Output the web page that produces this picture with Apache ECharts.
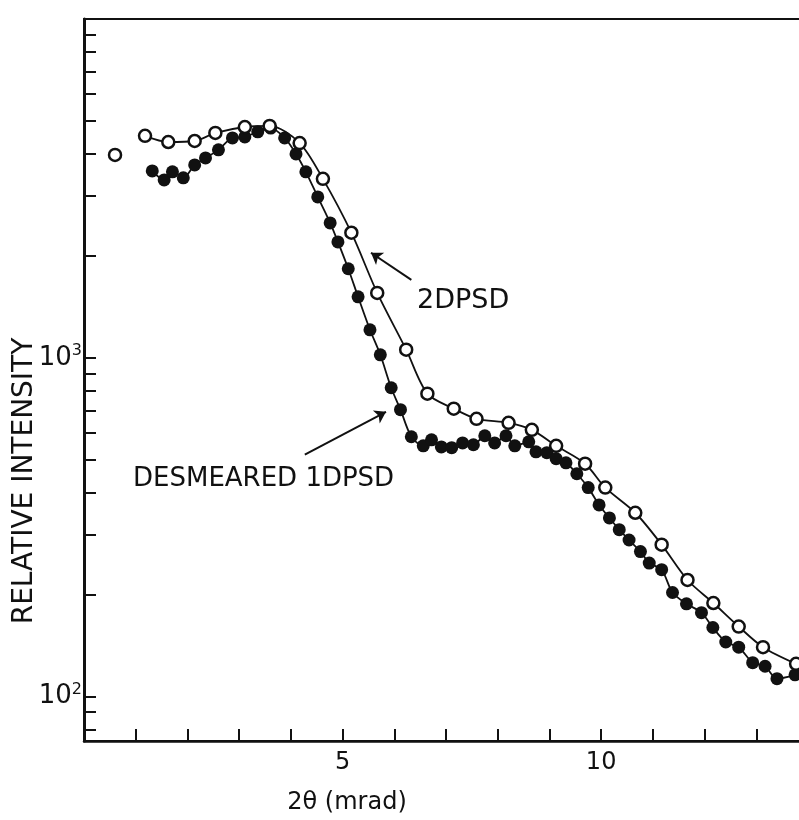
<!DOCTYPE html>
<html>
<head>
<meta charset="utf-8">
<script src="https://cdn.jsdelivr.net/npm/echarts@6/dist/echarts.min.js"></script>
<style>
  html, body { margin: 0; padding: 0; background: #fff; }
  #chart { width: 799px; height: 820px; }
</style>
</head>
<body>
<div id="chart"></div>
<script>
// Scattering angle 2θ (mrad)
const twoDX = [0.60, 1.18, 1.63, 2.14, 2.54, 3.11, 3.59, 4.17, 4.62, 5.17, 5.67, 6.23, 6.64, 7.15, 7.59, 8.21, 8.66, 9.13, 9.69, 10.08, 10.66, 11.17, 11.67, 12.17, 12.66, 13.13, 13.77];
// Relative intensity, 2DPSD (open circles)
const twoDY = [3970, 4520, 4335, 4365, 4610, 4800, 4835, 4305, 3375, 2340, 1555, 1057, 784, 708, 661, 643, 613, 550, 487, 414, 349, 281, 221, 189, 161, 140, 125];

// Scattering angle 2θ (mrad), desmeared 1DPSD
const oneDX = [1.32, 1.55, 1.71, 1.92, 2.14, 2.35, 2.60, 2.87, 3.11, 3.36, 3.61, 3.88, 4.10, 4.29, 4.52, 4.76, 4.91, 5.11, 5.30, 5.53, 5.73, 5.94, 6.12, 6.33, 6.56, 6.72, 6.91, 7.11, 7.32, 7.53, 7.75, 7.94, 8.16, 8.33, 8.60, 8.74, 8.95, 9.13, 9.32, 9.53, 9.75, 9.96, 10.16, 10.35, 10.54, 10.76, 10.93, 11.17, 11.38, 11.65, 11.94, 12.16, 12.41, 12.66, 12.93, 13.17, 13.40, 13.75];
// Relative intensity, desmeared 1DPSD (filled circles)
const oneDY = [3562, 3350, 3540, 3398, 3710, 3890, 4110, 4457, 4487, 4645, 4765, 4457, 3997, 3540, 2985, 2502, 2198, 1832, 1514, 1210, 1021, 816, 703, 585, 550, 573, 546, 543, 561, 554, 589, 561, 589, 550, 565, 528, 525, 504, 490, 455, 414, 368, 337, 311, 290, 268, 248, 237, 203, 188, 177, 160, 145, 140, 126, 123, 113, 116];

// Axis ticks and labels
const xTickLabels = [5, 10];
const yTickValues = [80, 90, 100, 200, 300, 400, 500, 600, 700, 800, 900, 1000, 2000, 3000, 4000, 5000, 6000, 7000, 8000, 9000];
const yTickLabels = [100, 1000];

// Annotation arrows [x0, y0, x1, y1] in data units
const arrow2D = [6.33, 1698, 5.55, 2042];
const arrow1D = [4.27, 518, 5.84, 693];

const INK = '#111';
const FONT = 'DejaVu Sans';

const pairs = (xs, ys) => xs.map((x, i) => [x, ys[i]]);
const twoD = pairs(twoDX, twoDY);
const oneD = pairs(oneDX, oneDY);

const arrowLine = (a) => ({
  silent: true,
  symbol: ['none', 'arrow'],
  symbolSize: 11,
  lineStyle: { color: INK, width: 2, type: 'solid' },
  itemStyle: { color: INK },
  label: { show: false },
  emphasis: { disabled: true },
  data: [[{ coord: [a[0], a[1]] }, { coord: [a[2], a[3]] }]]
});

const chart = echarts.init(document.getElementById('chart'), null, { renderer: 'canvas' });
chart.setOption({
  animation: false,
  backgroundColor: '#fff',
  grid: {
    left: 84, top: 19, width: 724, height: 722,
    containLabel: false, outerBoundsMode: 'none',
    show: true, borderColor: INK, borderWidth: 2, backgroundColor: 'transparent'
  },
  xAxis: {
    type: 'value', min: 0, max: 14, interval: 1,
    splitLine: { show: false },
    axisLine: { lineStyle: { color: INK, width: 2.5 } },
    axisTick: { inside: true, length: 12, lineStyle: { color: INK, width: 2 } },
    axisLabel: {
      margin: 10, color: INK, fontFamily: FONT, fontSize: 24,
      formatter: (v) => xTickLabels.includes(v) ? String(v) : ''
    }
  },
  yAxis: {
    type: 'log', logBase: 10, min: 74, max: 10000,
    splitLine: { show: false },
    axisLine: { lineStyle: { color: INK, width: 3 } },
    axisTick: { inside: true, length: 12, customValues: yTickValues, lineStyle: { color: INK, width: 2 } },
    axisLabel: {
      customValues: yTickLabels,
      margin: 2, color: INK,
      formatter: (v) => v === 1000 ? '{b|10}{s|3}' : (v === 100 ? '{b|10}{s|2}' : ''),
      rich: {
        b: { fontFamily: FONT, fontSize: 26, lineHeight: 30, color: INK },
        s: { fontFamily: FONT, fontSize: 16, lineHeight: 16, verticalAlign: 'top', color: INK }
      }
    }
  },
  series: [
    {
      name: 'DESMEARED 1DPSD',
      type: 'line',
      data: oneD,
      smooth: 0.3,
      symbol: 'circle', symbolSize: 13,
      itemStyle: { color: INK, borderColor: INK, borderWidth: 0, opacity: 1 },
      lineStyle: { color: INK, width: 1.8 },
      markLine: arrowLine(arrow1D),
      z: 3
    },
    {
      name: '2DPSD',
      type: 'line',
      data: twoD.slice(1),
      smooth: 0.3,
      symbol: 'circle', symbolSize: 12,
      itemStyle: { color: '#fff', borderColor: INK, borderWidth: 2.5, opacity: 1 },
      lineStyle: { color: INK, width: 1.8 },
      markLine: arrowLine(arrow2D),
      z: 4
    },
    {
      name: '2DPSD',
      type: 'scatter',
      data: twoD.slice(0, 1),
      symbol: 'circle', symbolSize: 12,
      itemStyle: { color: '#fff', borderColor: INK, borderWidth: 2.5, opacity: 1 },
      z: 4
    }
  ],
  graphic: [
    {
      type: 'text', left: 417, top: 287,
      style: { text: '2DPSD', fill: INK, font: '27px "' + FONT + '"' }
    },
    {
      type: 'text', left: 133, top: 466,
      style: { text: 'DESMEARED 1DPSD', fill: INK, font: '26px "' + FONT + '"' }
    },
    {
      type: 'text', x: 25, y: 481, rotation: Math.PI / 2,
      style: { text: 'RELATIVE INTENSITY', fill: INK, font: '28px "' + FONT + '"', textAlign: 'center', textVerticalAlign: 'middle' }
    },
    {
      type: 'text', x: 347, y: 803,
      style: { text: '2θ (mrad)', fill: INK, font: '24px "' + FONT + '"', textAlign: 'center', textVerticalAlign: 'middle' }
    }
  ]
});
</script>
</body>
</html>
